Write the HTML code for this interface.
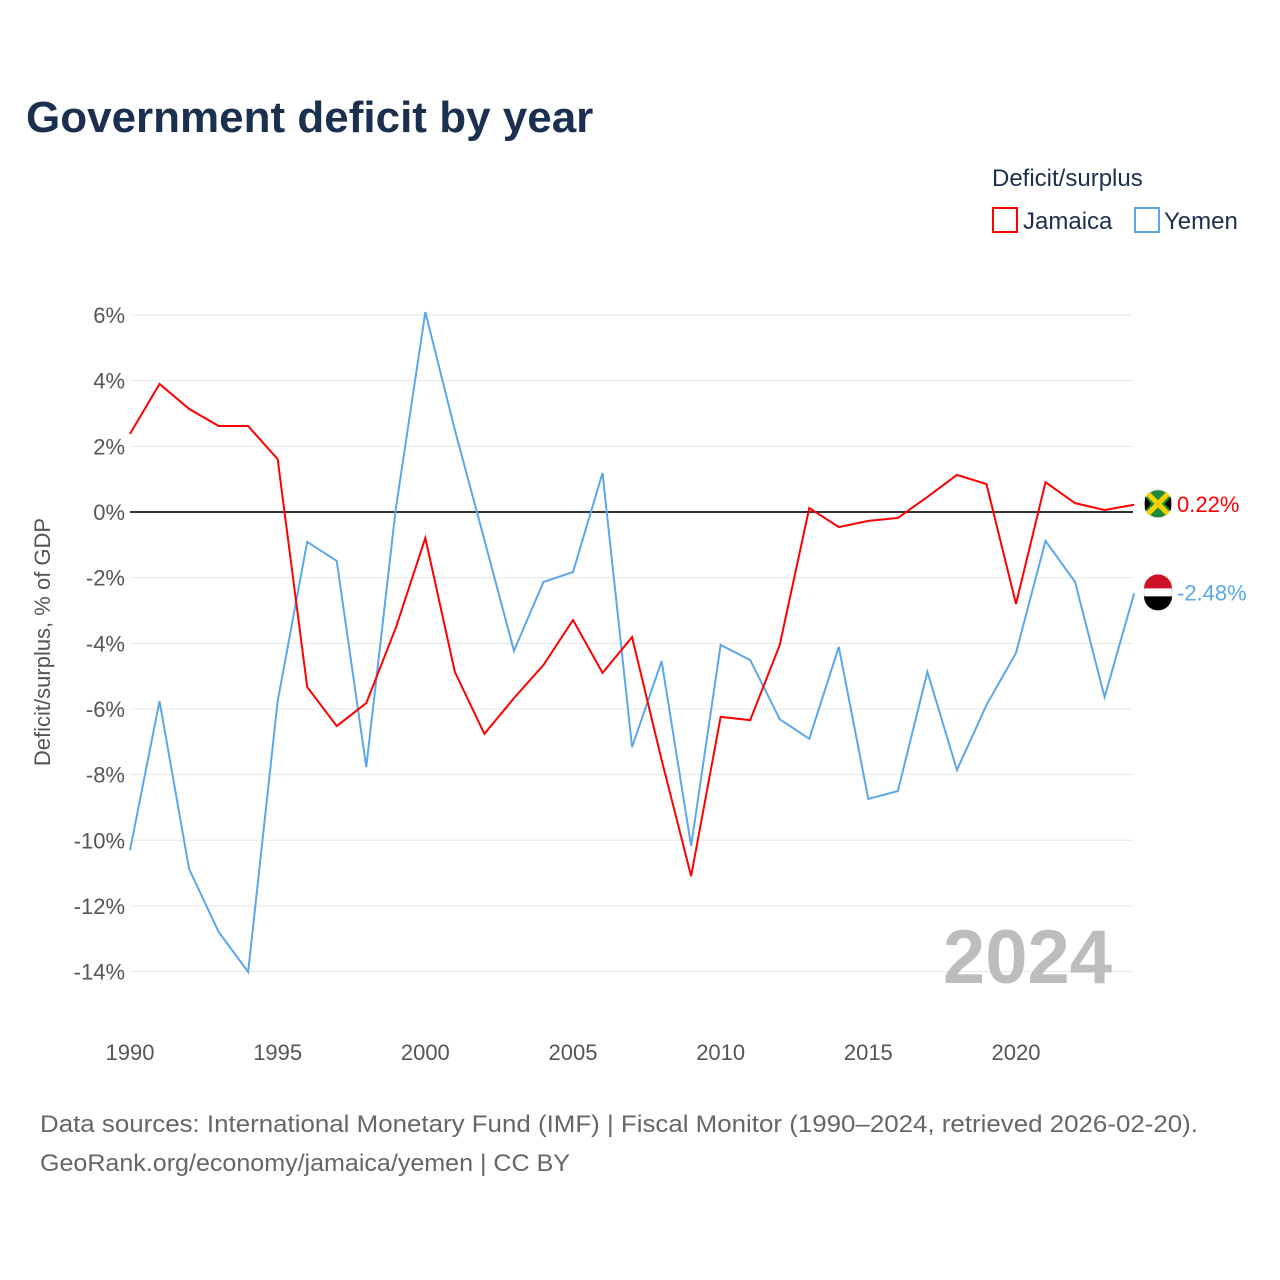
<!DOCTYPE html>
<html><head><meta charset="utf-8"><style>
body{margin:0;background:#fff;font-family:"Liberation Sans",sans-serif}
#wrap{position:relative;width:1280px;height:1280px;overflow:hidden}
</style></head><body>
<div id="wrap">
<svg id="chart" width="1280" height="1280" xmlns="http://www.w3.org/2000/svg">
<text x="26" y="132" font-size="44" font-weight="bold" fill="#1b2f4f">Government deficit by year</text>
<text x="992" y="186" font-size="24" fill="#1b2f4f">Deficit/surplus</text>
<g><rect x="993" y="208" width="24" height="24" fill="none" stroke="#ff0000" stroke-width="2"/><text x="1023" y="229" font-size="24" fill="#1b2f4f">Jamaica</text></g>
<g><rect x="1135" y="208" width="24" height="24" fill="none" stroke="#5ba7ea" stroke-width="2"/><text x="1164" y="229" font-size="24" fill="#1b2f4f">Yemen</text></g>
<text transform="translate(50,642) rotate(-90)" text-anchor="middle" font-size="22" fill="#555">Deficit/surplus, % of GDP</text>
<g id="grid"></g><g id="yt"></g><g id="xt"></g>
<text x="1112" y="983" text-anchor="end" font-size="76" font-weight="bold" fill="#bdbdbd">2024</text>
<g id="series"></g>
<text x="40" y="1132" font-size="24" fill="#666" textLength="1158" lengthAdjust="spacingAndGlyphs">Data sources: International Monetary Fund (IMF) | Fiscal Monitor (1990–2024, retrieved 2026-02-20).</text>
<text x="40" y="1171" font-size="24" fill="#666" textLength="530" lengthAdjust="spacingAndGlyphs">GeoRank.org/economy/jamaica/yemen | CC BY</text>
</svg></div>
<script>
const years=[];for(let y=1990;y<=2024;y++)years.push(y);
const jamaica=[2.38,3.9,3.14,2.62,2.62,1.61,-5.33,-6.52,-5.82,-3.53,-0.79,-4.87,-6.76,-5.67,-4.66,-3.29,-4.9,-3.81,-7.55,-11.09,-6.24,-6.34,-4.05,0.12,-0.46,-0.27,-0.18,0.46,1.13,0.85,-2.8,0.91,0.27,0.06,0.22];
const yemen=[-10.3,-5.76,-10.87,-12.79,-14.01,-5.76,-0.91,-1.49,-7.77,0.1,6.09,2.5,-0.85,-4.23,-2.13,-1.83,1.19,-7.16,-4.54,-10.17,-4.05,-4.51,-6.31,-6.91,-4.11,-8.74,-8.5,-4.87,-7.86,-5.88,-4.29,-0.88,-2.13,-5.64,-2.48];
const yTicks=[6,4,2,0,-2,-4,-6,-8,-10,-12,-14];
const xTicks=[1990,1995,2000,2005,2010,2015,2020];
const X=y=>130+(y-1990)*886/30, Y=v=>512-v*32.83;
const NS="http://www.w3.org/2000/svg";
function mk(t,a,p){const e=document.createElementNS(NS,t);for(const k in a)e.setAttribute(k,a[k]);p.appendChild(e);return e;}
const grid=document.getElementById('grid'),yt=document.getElementById('yt'),xt=document.getElementById('xt'),s=document.getElementById('series');
yTicks.forEach(v=>{
 const l=mk('line',{x1:130,x2:1133,y1:Y(v),y2:Y(v),stroke:v===0?'#333':'#e6e6e6','stroke-width':v===0?2:1},grid);
 
 
 const t=mk('text',{x:125,y:Y(v)+8,'text-anchor':'end','font-size':22,fill:'#555'},yt);t.textContent=v+'%';
 
 
});
xTicks.forEach(v=>{
 const t=mk('text',{x:X(v),y:1060,'text-anchor':'middle','font-size':22,fill:'#555'},xt);t.textContent=v;
 
 
});
function line(d,c,n){
 const p=mk('polyline',{points:d.map((v,i)=>X(years[i])+','+Y(v)).join(' '),fill:'none',stroke:c,'stroke-width':2},s);
 
 
}
line(yemen,'#5ba7ea','yemen');line(jamaica,'#ff0000','jamaica');
function endLabel(v,c,n,dy){
 const y=Y(v)+dy;
 const g=mk('g',{},s);
 
 
 mk('circle',{cx:1158,cy:y,r:14,fill:n==='jamaica'?'#1c8c3c':'#fff',stroke:'#ddd'},g);
 if(n==='jamaica'){mk('path',{d:`M1148 ${y-10}L1168 ${y+10}M1168 ${y-10}L1148 ${y+10}`,stroke:'#fed100','stroke-width':5},g);mk('path',{d:`M1145 ${y-7}L1151 ${y}L1145 ${y+7}Z M1171 ${y-7}L1165 ${y}L1171 ${y+7}Z`,fill:'#000'},g);}
 else{mk('path',{d:`M1144 ${y-4}A14 14 0 0 1 1172 ${y-4}Z`,fill:'#ce1126'},g);mk('path',{d:`M1144 ${y+4}A14 14 0 0 0 1172 ${y+4}Z`,fill:'#000'},g);}
 const t=mk('text',{x:1177,y:y+8,'font-size':22,fill:c},g);t.textContent=v.toFixed(2)+'%';
}
endLabel(jamaica[jamaica.length-1],'#ff0000','jamaica',-1);
endLabel(yemen[yemen.length-1],'#5ba7ea','yemen',-1);
</script></body></html>
